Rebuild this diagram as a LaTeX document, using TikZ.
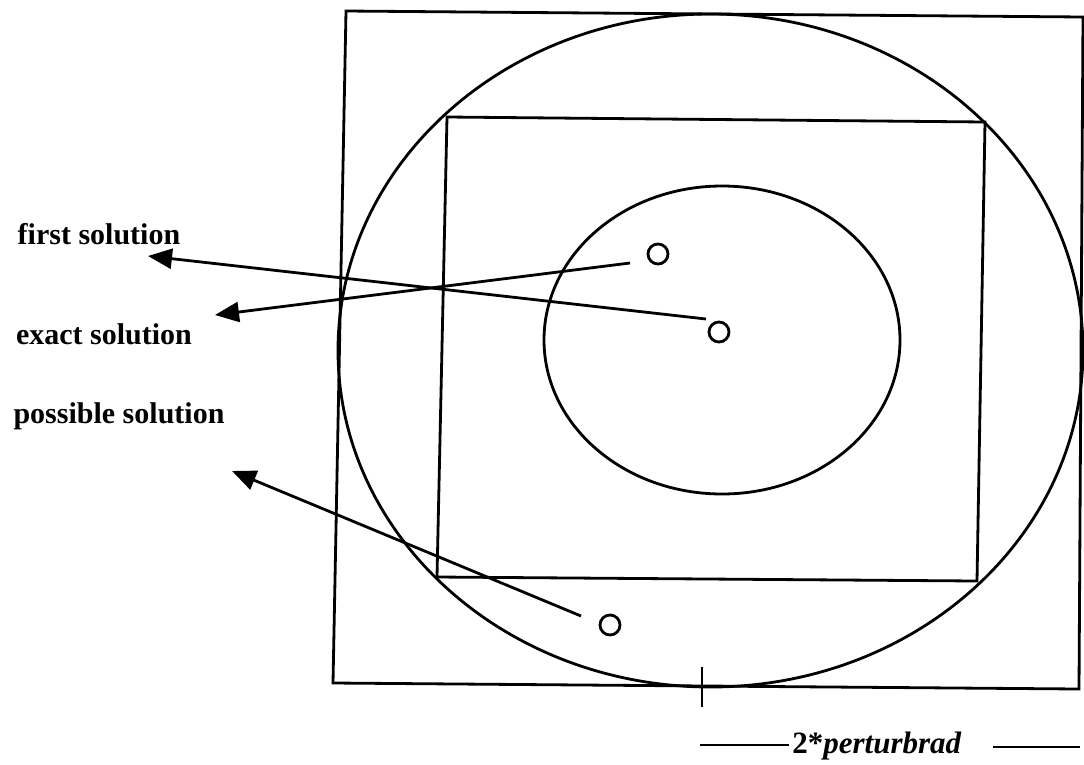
\documentclass[tikz,border=0pt]{standalone}
\usepackage{fontspec}
\setmainfont{Liberation Serif}
\usetikzlibrary{arrows.meta}
\tikzset{
  ln/.style={line width=2.8pt, line join=miter},
  dot/.style={circle, draw, line width=2.8pt, minimum size=20pt, inner sep=0pt},
  lbl/.style={font=\fontsize{30}{36}\selectfont\bfseries, inner sep=0pt},
  arr/.style={ln, -{Triangle[length=24pt,width=20pt]}}
}
\begin{document}
\begin{tikzpicture}[x=1pt,y=-1pt]
\useasboundingbox (0,0) rectangle (1084,764);
% outer square
\draw[ln] (346,11) -- (1083,17) -- (1079,689) -- (333,683) -- cycle;
% big ellipse
\draw[ln] (710.5,350.5) ellipse [x radius=372.5, y radius=336.5];
% inner square
\draw[ln] (447,117) -- (985,122) -- (977,581) -- (437,577) -- cycle;
% inner ellipse
\draw[ln] (722,340) ellipse [x radius=178, y radius=154];
% small circles
\node[dot] (c1) at (658,254) {};
\node[dot] (c2) at (719,332) {};
\node[dot] (c3) at (610,625) {};
% labels
\node[lbl] (first) at (99,234) {first solution};
\node[lbl] (exact) at (104,334) {exact solution};
\node[lbl] (poss) at (119,416) {possible solution};
% arrow endpoints
\coordinate (s1) at (706,319);
\coordinate (t1) at (148,256);
\coordinate (s2) at (630,263);
\coordinate (t2) at (215,315);
\coordinate (s3) at (581,616);
\coordinate (t3) at (232,471);
\draw[arr] (s1) -- (t1);
\draw[arr] (s2) -- (t2);
\draw[arr] (s3) -- (t3);
% tick mark
\coordinate (tk1) at (702,667);
\coordinate (tk2) at (702,707);
\draw[ln] (tk1) -- (tk2);
% dimension label
\node[font=\fontsize{31}{36}\selectfont\bfseries, inner sep=0pt] (dim) at (877,746) {2*\textit{perturbrad}};
\coordinate (d1) at (700,745);
\coordinate (d2) at (789,745);
\coordinate (d3) at (993,747);
\coordinate (d4) at (1080,747);
\draw[ln] (d1) -- (d2);
\draw[ln] (d3) -- (d4);
\end{tikzpicture}
\end{document}
